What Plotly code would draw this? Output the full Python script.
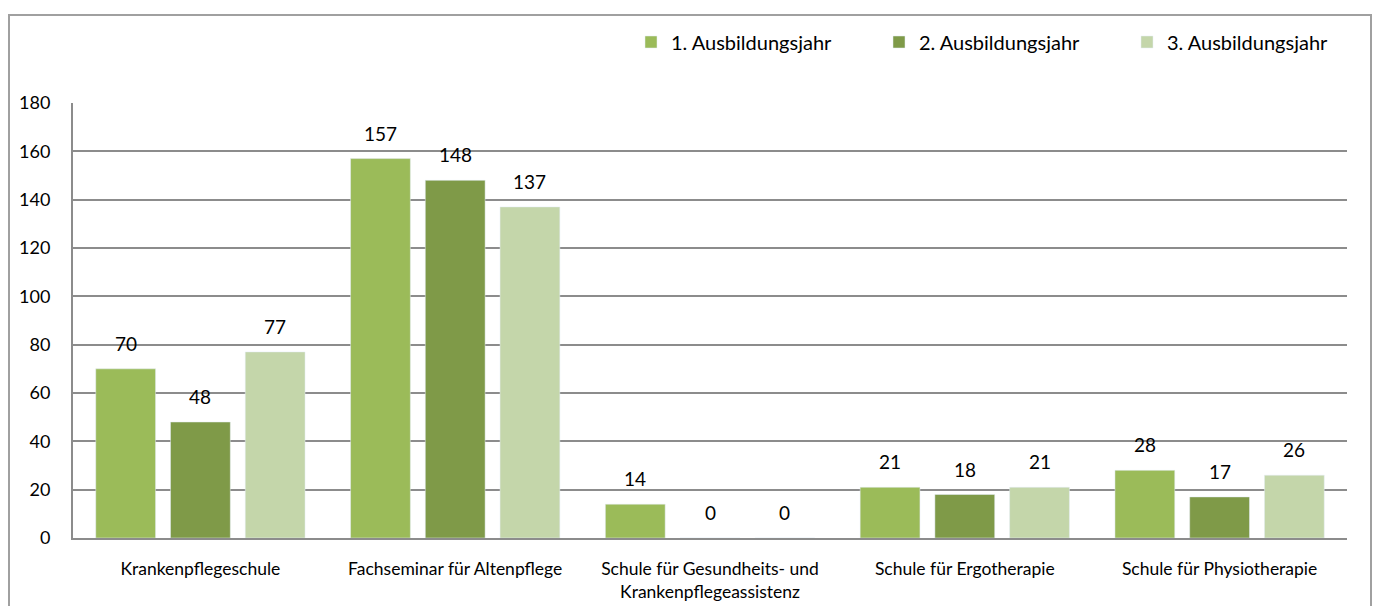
import plotly.graph_objects as go

categories = ["Krankenpflegeschule", "Fachseminar für Altenpflege",
              "Schule für Gesundheits- und<br>Krankenpflegeassistenz",
              "Schule für Ergotherapie", "Schule für Physiotherapie"]
series_names = ["1. Ausbildungsjahr", "2. Ausbildungsjahr", "3. Ausbildungsjahr"]
jahr1 = [70, 157, 14, 21, 28]
jahr2 = [48, 148, 0, 18, 17]
jahr3 = [77, 137, 0, 21, 26]
y_ticks = [0, 20, 40, 60, 80, 100, 120, 140, 160, 180]

colors = ["#9bbb59", "#7f9a48", "#c4d6aa"]
FONT = "Lato, 'Open Sans', sans-serif"

OFF = 8  # page body margin
W, H = 1380 - 2 * OFF, 614 - 2 * OFF
plot_w, plot_h = 1274, 435
ML, MT = 73 - OFF, 103 - OFF
MR, MB = W - ML - plot_w, H - MT - plot_h
BARGAP, GROUPGAP = 0.12, 0.2
slot_px = plot_w / len(categories) * (1 - BARGAP) / len(series_names)

def px_x(p):  # page pixel -> paper x
    return (p - OFF - ML) / plot_w

def px_y(p):  # page pixel -> paper y
    return (MT + plot_h - (p - OFF)) / plot_h

fig = go.Figure()
for i, (name, vals, col) in enumerate(zip(series_names, [jahr1, jahr2, jahr3], colors)):
    fig.add_trace(go.Bar(x=categories, y=vals, name=name, marker_color=col))
    for c, v in zip(categories, vals):
        fig.add_annotation(x=c, y=v, xref="x", yref="y", text=str(v), showarrow=False,
                           xanchor="center", yanchor="bottom",
                           xshift=(i - 1) * slot_px, yshift=12,
                           font=dict(size=19, color="#000000"))

fig.update_layout(
    width=W, height=H,
    margin=dict(l=ML, r=MR, t=MT, b=MB, autoexpand=False),
    paper_bgcolor="white", plot_bgcolor="white",
    font=dict(family=FONT, size=17.5, color="#000000"),
    barmode="group", bargap=BARGAP, bargroupgap=GROUPGAP,
    showlegend=True,
    legend=dict(orientation="h", x=px_x(631), xanchor="left",
                y=px_y(42), yanchor="middle", itemwidth=30,
                font=dict(size=20), entrywidth=203, entrywidthmode="pixels",
                bgcolor="rgba(0,0,0,0)"),
)
fig.update_xaxes(showline=True, linecolor="#8c8c8c", linewidth=2, showgrid=False,
                 ticks="", tickfont=dict(size=17.5), ticklabelstandoff=14, automargin=False)
fig.update_yaxes(range=[0, 180], tickvals=y_ticks, showgrid=True, gridcolor="#8c8c8c",
                 gridwidth=1.5, showline=True, linecolor="#8c8c8c", linewidth=2,
                 zeroline=False, ticks="", ticklabelstandoff=17, tickfont=dict(size=18),
                 automargin=False)

fig.add_shape(type="rect", xref="paper", yref="paper",
              x0=px_x(OFF + 1), x1=px_x(OFF + W - 1), y0=px_y(OFF + H + 10), y1=px_y(15),
              line=dict(color="#a0a0a0", width=2), layer="below")

fig.write_html("out.html")
